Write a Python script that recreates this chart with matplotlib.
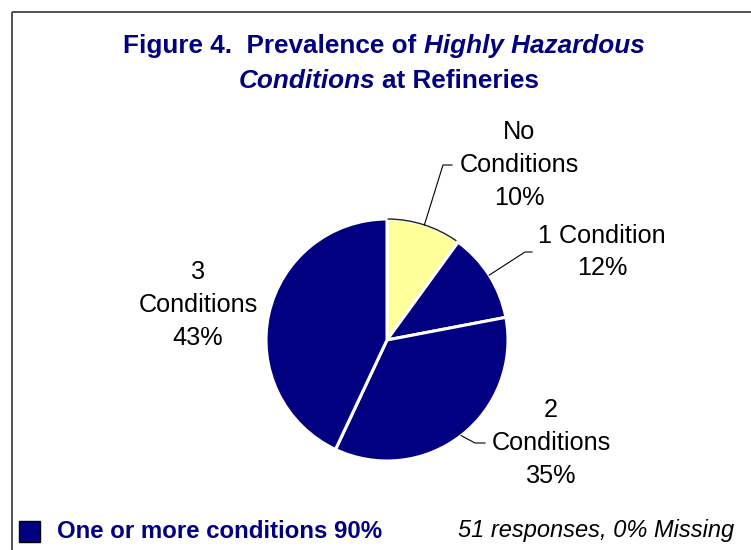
import matplotlib
matplotlib.use("Agg")
import matplotlib.pyplot as plt
from matplotlib.patches import Arc, Rectangle
import numpy as np

# ---- data ----
categories = ["No\nConditions", "1 Condition", "2\nConditions", "3\nConditions"]
percents = [10, 12, 35, 43]
colors = ["#FFFF99", "#000080", "#000080", "#000080"]
title_line1 = [("Figure 4.  Prevalence of", "normal"), ("Highly Hazardous", "italic")]
title_line2 = [("Conditions", "italic"), ("at Refineries", "normal")]
legend_text = "One or more conditions 90%"
note_text = "51 responses, 0% Missing"

W, H = 751, 550
NAVY = "#000080"
FONT = "Liberation Sans"
TITLE_FS = 18.8
LABEL_FS = 18.2

fig = plt.figure(figsize=(W / 100, H / 100), dpi=100)
fig.patch.set_facecolor("white")
ax = fig.add_axes([0, 0, 1, 1])

def Y(y_top):
    return H - y_top

# ---- pie ----
cx, cy, R = 387, Y(340), 121
wedges, _ = ax.pie(percents, colors=colors, startangle=90, counterclock=False,
                   center=(cx, cy), radius=R,
                   wedgeprops=dict(edgecolor="white", linewidth=2.2))
ax.set_xlim(0, W)
ax.set_ylim(0, H)
ax.set_aspect("auto")
ax.axis("off")

# thin dark outline on yellow slice arc
yw = wedges[0]
ax.add_patch(Arc((cx, cy), 2 * R, 2 * R, theta1=yw.theta1 + 1.0, theta2=yw.theta2 - 0.3,
                 color="#222222", lw=1.0, zorder=3))

# ---- labels ----
label_pos = [(519, 165), (602, 252), (551, 443), (198, 305)]
elbows = [((443, 165), (452, 165)), ((525, 252), (532, 252)),
          ((475, 443), (485, 443)), None]
for i, (cat, p) in enumerate(zip(categories, percents)):
    lx, ly = label_pos[i]
    ax.text(lx, Y(ly), f"{cat}\n{p}%", ha="center", va="center", fontsize=LABEL_FS,
            family=FONT, color="black", linespacing=1.45)
    if elbows[i] is not None:
        w = wedges[i]
        ang = np.deg2rad((w.theta1 + w.theta2) / 2)
        px, py = cx + R * 1.0 * np.cos(ang), cy + R * 1.0 * np.sin(ang)
        (ex, ey), (hx, hy) = elbows[i]
        ax.plot([px, ex, hx], [py, Y(ey), Y(hy)], color="black", lw=0.8, zorder=4)

# ---- title (mixed styles) ----
fig.canvas.draw()
renderer = fig.canvas.get_renderer()

def seg_width(txt, style):
    t = ax.text(0, 0, txt, fontsize=TITLE_FS, family=FONT, weight="bold", style=style)
    wpx = t.get_window_extent(renderer).width
    t.remove()
    return wpx

space_w = seg_width("a a", "normal") - seg_width("aa", "normal")

def draw_line(segments, xc, y_top):
    widths = [seg_width(t, s) for t, s in segments]
    total = sum(widths) + space_w * (len(segments) - 1)
    x = xc - total / 2
    for (t, s), wpx in zip(segments, widths):
        ax.text(x, Y(y_top), t, fontsize=TITLE_FS, family=FONT, weight="bold", style=s,
                color=NAVY, ha="left", va="center")
        x += wpx + space_w

draw_line(title_line1, 384, 46)
draw_line(title_line2, 389, 81)

# ---- bottom legend / note ----
ax.add_patch(Rectangle((19, Y(542)), 21, 21, facecolor=NAVY, edgecolor="black", lw=1.0))
ax.text(57, Y(531), legend_text, fontsize=17.3, family=FONT, weight="bold",
        color=NAVY, ha="left", va="center")
ax.text(734, Y(531), note_text, fontsize=17, family=FONT, style="italic",
        color="black", ha="right", va="center")

# ---- frame (partially visible border) ----
ax.plot([12, W], [Y(12), Y(12)], color="#333333", lw=1.2, solid_capstyle="butt")
ax.plot([12, 12], [Y(12), 0], color="#333333", lw=1.2, solid_capstyle="butt")

fig.savefig("out.png", dpi=100, facecolor="white")
